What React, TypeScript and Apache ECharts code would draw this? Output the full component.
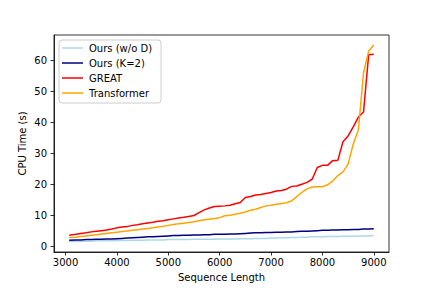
import React, { useEffect, useRef } from "react";
import * as echarts from "echarts";

const xValues = [3072, 3200, 3300, 3400, 3500, 3600, 3700, 3800, 3900, 4000, 4100, 4200, 4300, 4400, 4500, 4600, 4700, 4800, 4900, 5000, 5100, 5200, 5300, 5400, 5500, 5600, 5700, 5800, 5900, 6000, 6100, 6200, 6300, 6400, 6500, 6600, 6700, 6800, 6900, 7000, 7100, 7200, 7300, 7400, 7500, 7600, 7700, 7800, 7900, 8000, 8100, 8200, 8300, 8400, 8500, 8600, 8700, 8800, 8900, 9000];

const oursWoD = [1.5, 1.5, 1.6, 1.6, 1.6, 1.7, 1.7, 1.7, 1.7, 1.8, 1.8, 1.8, 1.9, 1.9, 1.9, 2.0, 2.0, 2.0, 2.0, 2.1, 2.1, 2.1, 2.1, 2.1, 2.2, 2.2, 2.2, 2.2, 2.2, 2.3, 2.3, 2.3, 2.3, 2.4, 2.4, 2.4, 2.5, 2.5, 2.5, 2.6, 2.6, 2.7, 2.7, 2.8, 2.8, 2.9, 2.9, 3.0, 3.0, 3.0, 3.1, 3.1, 3.1, 3.2, 3.2, 3.2, 3.3, 3.3, 3.3, 3.4];

const oursK2 = [1.9, 2.0, 2.0, 2.1, 2.1, 2.2, 2.2, 2.3, 2.3, 2.4, 2.5, 2.6, 2.7, 2.8, 2.9, 3.0, 3.0, 3.1, 3.2, 3.3, 3.4, 3.4, 3.5, 3.5, 3.6, 3.6, 3.7, 3.7, 3.8, 3.8, 3.8, 3.9, 3.9, 4.0, 4.1, 4.2, 4.3, 4.3, 4.4, 4.4, 4.5, 4.5, 4.6, 4.6, 4.7, 4.8, 4.8, 4.9, 5.0, 5.1, 5.1, 5.2, 5.2, 5.3, 5.3, 5.4, 5.4, 5.5, 5.5, 5.6];

const great = [3.5, 3.8, 4.1, 4.3, 4.6, 4.8, 5.0, 5.2, 5.5, 5.9, 6.2, 6.3, 6.7, 6.9, 7.2, 7.5, 7.7, 8.0, 8.2, 8.5, 8.8, 9.1, 9.3, 9.6, 9.9, 10.8, 11.7, 12.3, 12.8, 12.9, 13.0, 13.2, 13.7, 14.1, 15.7, 16.0, 16.5, 16.7, 17.0, 17.3, 17.8, 18.0, 18.4, 19.3, 19.4, 20.0, 20.6, 21.6, 25.4, 26.1, 26.1, 27.6, 27.7, 33.7, 35.6, 38.5, 41.7, 43.3, 61.8, 62.0];

const transformer = [2.8, 2.9, 3.1, 3.3, 3.5, 3.7, 3.9, 4.1, 4.3, 4.5, 4.7, 4.9, 5.1, 5.3, 5.5, 5.7, 5.9, 6.2, 6.4, 6.7, 7.0, 7.2, 7.4, 7.6, 7.9, 8.2, 8.5, 8.7, 8.9, 9.2, 9.8, 10.0, 10.3, 10.6, 11.0, 11.6, 11.9, 12.5, 13.0, 13.2, 13.5, 13.8, 14.0, 14.6, 16.0, 17.4, 18.5, 19.1, 19.2, 19.2, 19.8, 21.0, 22.8, 24.0, 26.5, 33.0, 37.5, 56.0, 63.0, 65.0];

const xTicks = [3000, 4000, 5000, 6000, 7000, 8000, 9000];
const yTicks = [0, 10, 20, 30, 40, 50, 60];

const seriesNames = ["Ours (w/o D)", "Ours (K=2)", "GREAT", "Transformer"];
const seriesColors = ["#add8e6", "#000080", "#ff0000", "#ffa500"];
const seriesValues = [oursWoD, oursK2, great, transformer];

const FONT = "DejaVu Sans";
const LEGEND_LINE = "path://M0,0 M0,4.25 L21,4.25 L21,5.75 L0,5.75 Z M22,10";

export default function App() {
  const ref = useRef<HTMLDivElement>(null);
  useEffect(() => {
    if (!ref.current) return;
    const chart = echarts.init(ref.current, null, { renderer: "svg" });
    chart.setOption({
      animation: false,
      backgroundColor: "#ffffff",
      textStyle: { fontFamily: FONT },
      grid: {
        left: 54,
        right: 43,
        top: 35,
        bottom: 36,
        show: true,
        borderColor: "#000",
        borderWidth: 0.8,
        backgroundColor: "transparent",
      },
      legend: {
        orient: "vertical",
        left: 59,
        top: 40,
        padding: [3, 9, 5, 3],
        itemWidth: 22,
        itemHeight: 10,
        itemGap: 5,
        backgroundColor: "rgba(255,255,255,0.8)",
        borderColor: "#cccccc",
        borderWidth: 1,
        borderRadius: 3,
        textStyle: { fontSize: 10, color: "#000", fontFamily: FONT, lineHeight: 10 },
        data: seriesNames.map((name, i) => ({
          name,
          icon: LEGEND_LINE,
          itemStyle: { color: seriesColors[i], borderWidth: 0 },
        })),
      },
      xAxis: {
        type: "value",
        min: 2776,
        max: 9296,
        name: "Sequence Length",
        nameLocation: "middle",
        nameGap: 20,
        nameMoveOverlap: false,
        nameTextStyle: { fontSize: 10, color: "#000", fontFamily: FONT },
        axisLine: { show: true, onZero: false, lineStyle: { color: "#000", width: 0.8 } },
        axisTick: { show: true, length: 3.5, lineStyle: { color: "#000", width: 0.8 }, customValues: xTicks },
        axisLabel: {
          fontSize: 10,
          color: "#000",
          fontFamily: FONT,
          margin: 5,
          customValues: xTicks,
          formatter: (v: number) => String(v),
        },
        splitLine: { show: false },
      },
      yAxis: {
        type: "value",
        min: -1.9,
        max: 68.2,
        name: "CPU Time (s)",
        nameLocation: "middle",
        nameRotate: 90,
        nameGap: 27,
        nameMoveOverlap: false,
        nameTextStyle: { fontSize: 10, color: "#000", fontFamily: FONT },
        axisLine: { show: true, onZero: false, lineStyle: { color: "#000", width: 0.8 } },
        axisTick: { show: true, length: 3.5, lineStyle: { color: "#000", width: 0.8 }, customValues: yTicks },
        axisLabel: {
          fontSize: 10,
          color: "#000",
          fontFamily: FONT,
          margin: 7,
          customValues: yTicks,
          formatter: (v: number) => String(v),
        },
        splitLine: { show: false },
      },
      series: seriesNames.map((name, i) => ({
        name,
        type: "line",
        symbol: "none",
        showSymbol: false,
        color: seriesColors[i],
        lineStyle: { color: seriesColors[i], width: 1.5 },
        data: xValues.map((x, j) => [x, seriesValues[i][j]]),
        z: 2 + i,
      })),
    });
    return () => chart.dispose();
  }, []);
  return (
    <div
      ref={ref}
      style={{ position: "absolute", left: 0, top: 0, width: 432, height: 288 }}
    />
  );
}
